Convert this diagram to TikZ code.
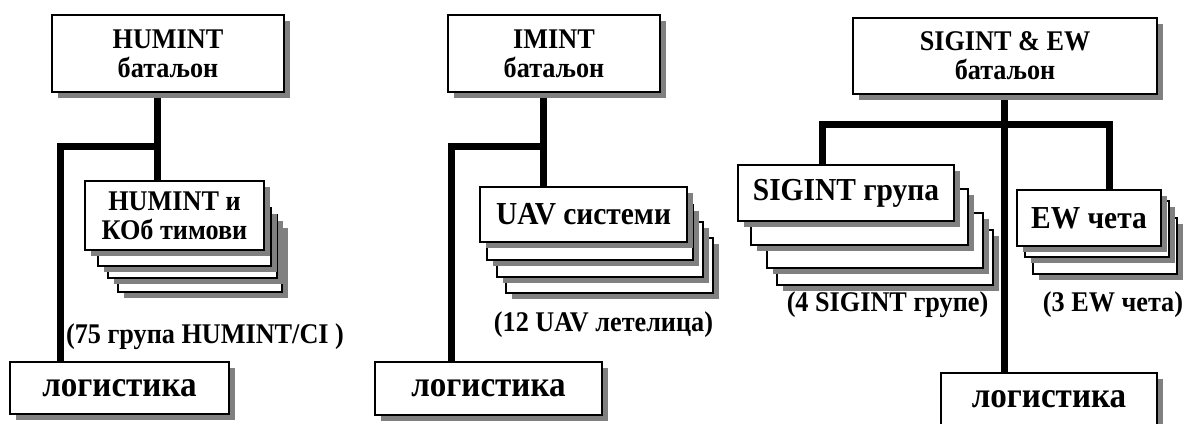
\documentclass[tikz,border=0pt]{standalone}
\usepackage{fontspec}
\setmainfont{Liberation Serif}[FakeStretch=0.92]
\usetikzlibrary{shadows}
\pgfdeclarelayer{bg}
\pgfsetlayers{bg,main}
\begin{document}
\begin{tikzpicture}[x=1pt,y=-1pt,
  box/.style={draw, line width=1.8pt, fill=white, inner sep=0pt, align=center,
    drop shadow={shadow xshift=5.5pt, shadow yshift=-5.5pt, fill=black!50, opacity=1},
    font=\bfseries\fontsize{28.5}{29}\selectfont},
  big/.style={font=\bfseries\fontsize{32}{34}\selectfont},
  logi/.style={font=\bfseries\fontsize{36}{40}\selectfont},
  conn/.style={line width=7pt, line join=miter, line cap=butt},
  lab/.style={font=\bfseries\fontsize{28.5}{30}\selectfont, inner sep=0pt}]
\useasboundingbox (0,0) rectangle (1188,423);
% ---------- junction coordinates
\coordinate (j1) at (157,146);
\coordinate (k1) at (60,146);
\coordinate (j2) at (543,146);
\coordinate (k2) at (451,146);
\coordinate (s0) at (1004,124);
\coordinate (sL) at (822,124);
\coordinate (sR) at (1109,124);
% ---------- title boxes
\node[box, minimum width=232pt, minimum height=77pt] (hum) at (168,53.5) {HUMINT\\батаљон};
\node[box, minimum width=212pt, minimum height=77pt] (im) at (554,53.5) {IMINT\\батаљон};
\node[box, minimum width=304pt, minimum height=76pt] (sig) at (1005,56) {SIGINT \& EW\\батаљон};
% ---------- stack panel 1
\node[box, minimum width=164pt, minimum height=70pt] (hA4) at (200,257) {};
\node[box, minimum width=169pt, minimum height=63pt] (hA3) at (192.5,246.5) {};
\node[box, minimum width=173pt, minimum height=58pt] (hA2) at (184.5,237) {};
\node[box, minimum width=179pt, minimum height=69pt] (hA1) at (174.5,215.5) {HUMINT и\\КОб тимови};
% ---------- stack panel 2
\node[box, minimum width=207pt, minimum height=55pt] (uA4) at (609.5,265.5) {};
\node[box, minimum width=206pt, minimum height=55pt] (uA3) at (600,249.5) {};
\node[box, minimum width=206pt, minimum height=55pt] (uA2) at (590,232.5) {};
\node[box, big, minimum width=207pt, minimum height=55pt] (uA1) at (583.5,214.5) {UAV системи};
% ---------- stacks panel 3
\node[box, minimum width=216pt, minimum height=55pt] (sgA4) at (885,257.5) {};
\node[box, minimum width=216pt, minimum height=55pt] (sgA3) at (875,240.5) {};
\node[box, minimum width=217pt, minimum height=56pt] (sgA2) at (859.5,217) {};
\node[box, big, minimum width=216pt, minimum height=56pt] (sgA1) at (846,193) {SIGINT група};
\node[box, minimum width=144pt, minimum height=56pt] (ewA3) at (1105,246) {};
\node[box, minimum width=144pt, minimum height=56pt] (ewA2) at (1097,229) {};
\node[box, big, minimum width=144pt, minimum height=56pt] (ewA1) at (1089,218) {EW чета};
% ---------- logistics
\node[box, logi, minimum width=219pt, minimum height=52pt] (log1) at (119.5,388) {логистика};
\node[box, logi, minimum width=227pt, minimum height=53pt] (log2) at (488.5,388.5) {логистика};
\node[box, logi, minimum width=216pt, minimum height=52pt] (log3) at (1049,399) {логистика};
% ---------- labels
\node[lab] (lab1) at (205,337) {(75 група HUMINT/CI )};
\node[lab] (lab2) at (603.5,325) {(12 UAV летелица)};
\node[lab] (lab3) at (887.5,305) {(4 SIGINT групе)};
\node[lab] (lab4) at (1113,305) {(3 EW чета)};
% ---------- connectors, behind the boxes
\begin{pgfonlayer}{bg}
\draw[conn] (j1 |- hum.south) -- (j1 |- hA1.north);
\draw[conn] (j1) -- (k1) -- (k1 |- log1.north);
\draw[conn] (j2 |- im.south) -- (j2 |- uA1.north);
\draw[conn] (j2) -- (k2) -- (k2 |- log2.north);
\draw[conn] (s0 |- sig.south) -- (s0 |- log3.north);
\draw[conn] (sL |- sgA1.north) -- (sL) -- (sR) -- (sR |- ewA1.north);
\end{pgfonlayer}
\end{tikzpicture}
\end{document}
